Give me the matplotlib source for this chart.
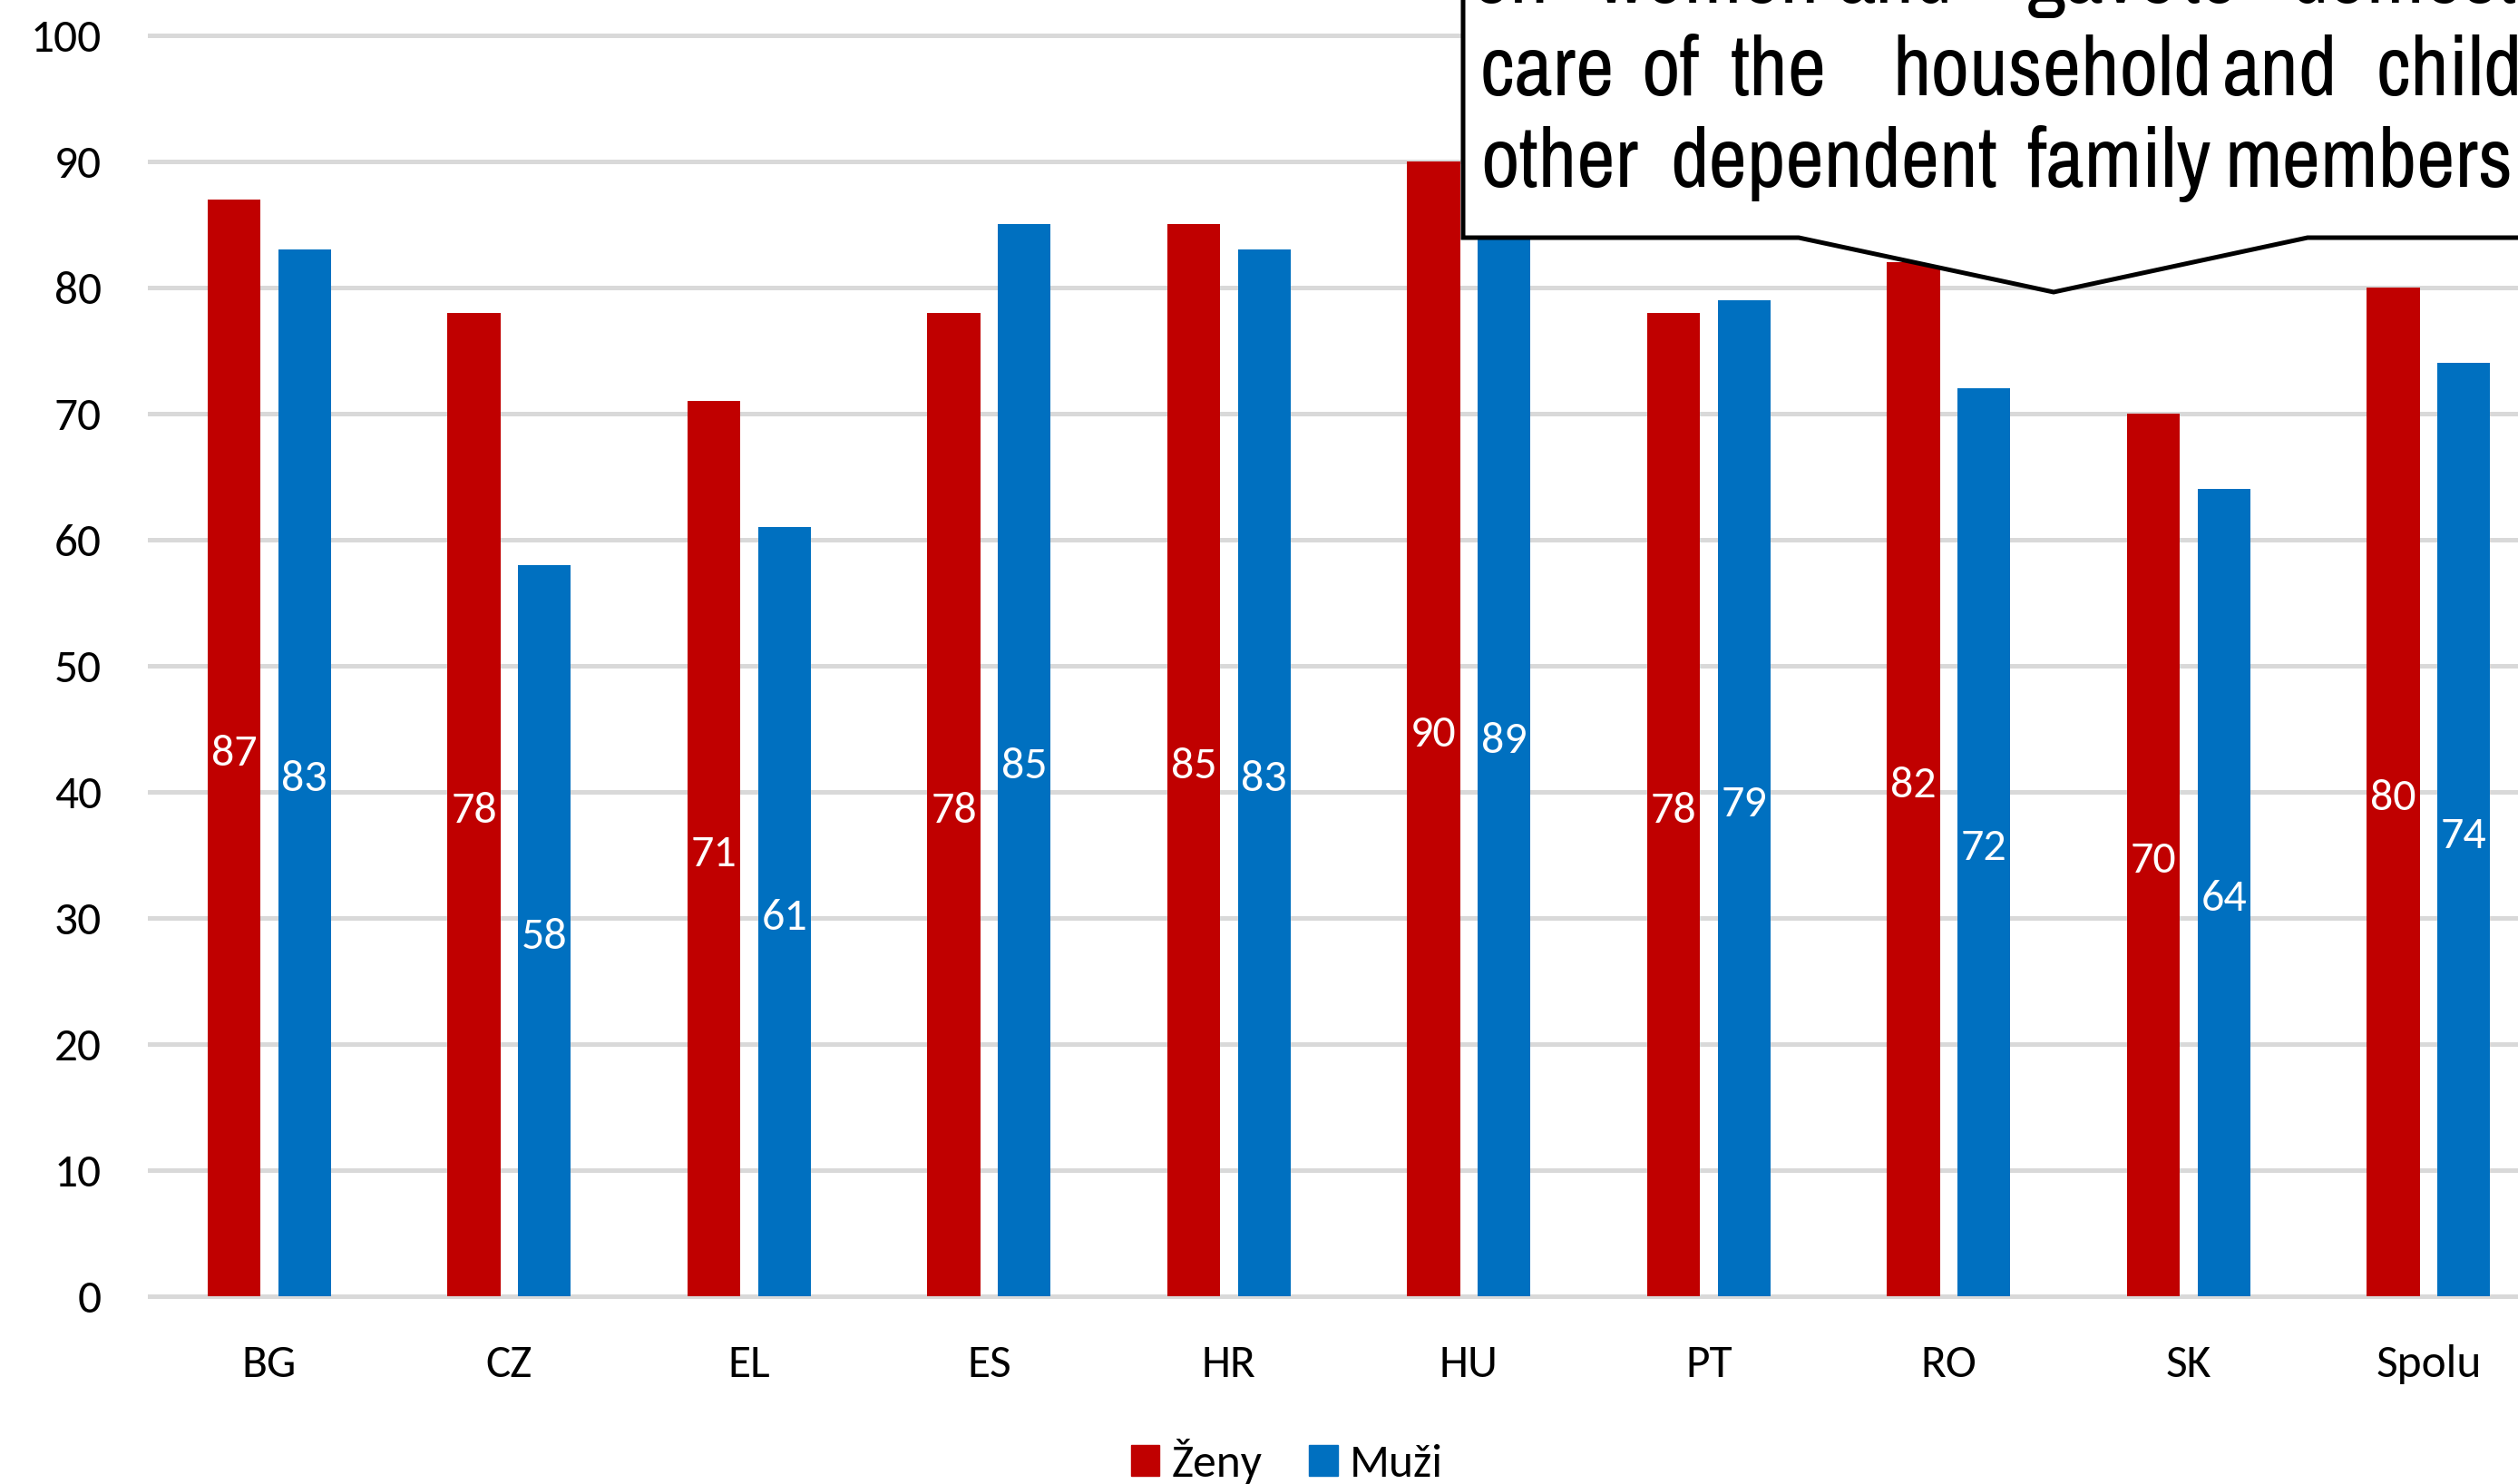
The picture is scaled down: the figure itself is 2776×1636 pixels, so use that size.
import matplotlib.pyplot as plt
import numpy as np
from matplotlib.patches import Polygon, Patch

countries = ['BG', 'CZ', 'EL', 'ES', 'HR', 'HU', 'PT', 'RO', 'SK', 'Spolu']
zeny = [87, 78, 71, 78, 85, 90, 78, 82, 70, 80]
muzi = [83, 58, 61, 85, 83, 89, 79, 72, 64, 74]
yticks = [0, 10, 20, 30, 40, 50, 60, 70, 80, 90, 100]

# callout text, one list of words per line
callout_lines = [
    ['on', 'women', 'and', 'gave', 'to', 'domestic'],
    ['care', 'of', 'the', 'household', 'and', 'children'],
    ['other', 'dependent', 'family', 'members.'],
]

RED = '#C00000'
BLUE = '#0070C0'
GRID = '#D9D9D9'
W, H = 2776, 1636

plt.rcParams['font.family'] = ['Carlito', 'Lato', 'DejaVu Sans']

fig = plt.figure(figsize=(W / 100, H / 100), dpi=100)
ax = fig.add_axes([0.0593, 0.1266, 0.9528, 0.8496])

x = np.arange(len(countries))
bw = 0.22
b1 = ax.bar(x - 0.147, zeny, bw, color=RED, label='Ženy', zorder=2)
b2 = ax.bar(x + 0.147, muzi, bw, color=BLUE, label='Muži', zorder=2)
ax.bar_label(b1, label_type='center', color='white', fontsize=36, padding=-5)
ax.bar_label(b2, label_type='center', color='white', fontsize=36, padding=-5)

ax.set_xlim(-0.5, len(countries) - 0.5)
ax.set_ylim(0, 100)
ax.set_yticks(yticks)
ax.set_xticks(x)
ax.set_xticklabels(countries)
ax.tick_params(axis='both', length=0, labelsize=37, colors='black')
ax.tick_params(axis='y', pad=38)
ax.tick_params(axis='x', pad=38)
ax.grid(axis='y', color=GRID, lw=3.6, zorder=0)
ax.set_axisbelow(True)
for gl in ax.get_ygridlines():
    gl.set_clip_on(False)
for s in ax.spines.values():
    s.set_visible(False)

fig.legend(handles=[Patch(color=RED, label='Ženy'), Patch(color=BLUE, label='Muži')],
           loc='center', bbox_to_anchor=(0.511, 1 - 1611 / H), ncol=2, frameon=False,
           fontsize=37, handlelength=0.62, handleheight=0.62, handletextpad=0.25,
           columnspacing=1.0)

# callout box with pointer (pixel coords from top-left)
pts = [(1613, -20), (1613, 262), (1983, 262), (2264, 322), (2544, 262),
       (2800, 262), (2800, -20)]
poly = Polygon([(px / W, 1 - py / H) for px, py in pts], closed=True,
               transform=fig.transFigure, facecolor='white', edgecolor='black',
               lw=3.6, zorder=5, joinstyle='miter')
fig.patches.append(poly)

cfam = ['Archivo Narrow', 'Liberation Sans']
word_x = [
    [1622, 1760, 2026, 2235, 2405, 2524],
    [1632, 1809, 1908, 2086, 2450, 2620],
    [1632, 1841, 2234, 2452],
]
baselines = [3, 105, 206]
for words, xs, by in zip(callout_lines, word_x, baselines):
    for wd, px in zip(words, xs):
        fig.text(px / W, 1 - by / H, wd, fontsize=67, family=cfam,
                 va='baseline', ha='left', color='black', zorder=6)

fig.savefig('out.png', dpi=100)
